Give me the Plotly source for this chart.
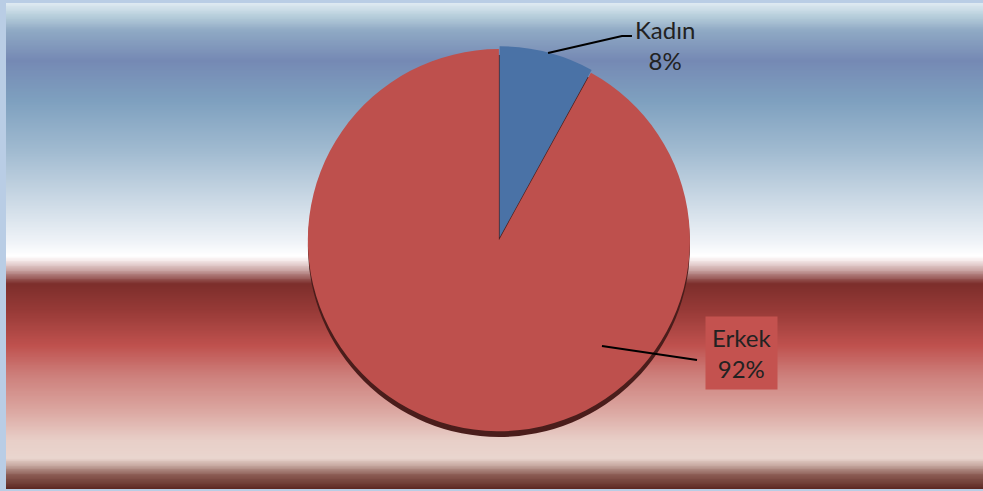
import plotly.graph_objects as go

labels = ["Kadın", "Erkek"]
values = [8, 92]
colors = ["#4A72A6", "#BE504D"]

# background band colours, top (1.0) to bottom (0.0) of the plot area
bg_stops = [
    (0.000, "#5a2520"), (0.029, "#8a5a52"), (0.047, "#c0a098"), (0.064, "#e9d5ce"),
    (0.101, "#e8cfc8"), (0.163, "#dba6a0"), (0.235, "#cd7f7b"), (0.296, "#bf514e"),
    (0.368, "#973a37"), (0.424, "#7c2e2b"), (0.451, "#c9a3a2"), (0.471, "#f5eaea"),
    (0.481, "#ffffff"), (0.512, "#eef2f7"), (0.595, "#cbd9e5"), (0.698, "#a0bad0"),
    (0.800, "#7ea0bf"), (0.883, "#7589b4"), (0.944, "#8fa9c4"), (0.975, "#b8cfdc"),
    (1.000, "#dde9f1"),
]
n = 300
ys = [i / (n - 1) for i in range(n)]

fig = go.Figure()
fig.add_trace(go.Heatmap(x=[0, 1], y=ys, z=[[v, v] for v in ys], zmin=0, zmax=1,
                         colorscale=[[s, c] for s, c in bg_stops], showscale=False,
                         hoverinfo="skip", zsmooth="best"))

# shadow under the pie
fig.add_trace(go.Pie(values=[1], marker=dict(colors=["#4a1d1b"], line=dict(width=0)),
                     textinfo="none", hoverinfo="skip", showlegend=False, sort=False,
                     domain=dict(x=[0.309, 0.700], y=[0.107, 0.893])))
fig.add_trace(go.Pie(labels=labels, values=values, marker=dict(colors=colors, line=dict(width=0)),
                     textinfo="none", sort=False, direction="clockwise", rotation=0, showlegend=False,
                     pull=[0.015, 0], domain=dict(x=[0.306, 0.703], y=[0.113, 0.911])))

font = dict(family="Lato, Open Sans, sans-serif", size=24, color="#222222")
fig.add_annotation(x=0.6745, y=0.9136, xref="paper", yref="paper", showarrow=False,
                   xanchor="center", yanchor="middle",
                   text=f"{labels[0]}<br>{values[0]}%", font=font)
fig.add_annotation(x=0.7533, y=0.2798, xref="paper", yref="paper", showarrow=False,
                   xanchor="center", yanchor="middle",
                   text=f"{labels[1]}<br>{values[1]}%", font=font, bgcolor="#C4524F", borderpad=6)
fig.add_shape(type="path", xref="paper", yref="paper",
              path="M 0.5548 0.8971 L 0.6305 0.9321 L 0.6407 0.9321", line=dict(color="black", width=2))
fig.add_shape(type="line", xref="paper", yref="paper", x0=0.6100, y0=0.2942, x1=0.7073, y1=0.2654,
              line=dict(color="black", width=2))

fig.update_xaxes(visible=False, range=[0, 1])
fig.update_yaxes(visible=False, range=[0, 1])
fig.update_layout(width=983, height=491, margin=dict(l=6, r=0, t=3, b=2),
                  paper_bgcolor="#B9CDE5", plot_bgcolor="#B9CDE5")
fig.write_html("out.html", config={"displayModeBar": False},
               post_script="document.body.style.margin='0';")
